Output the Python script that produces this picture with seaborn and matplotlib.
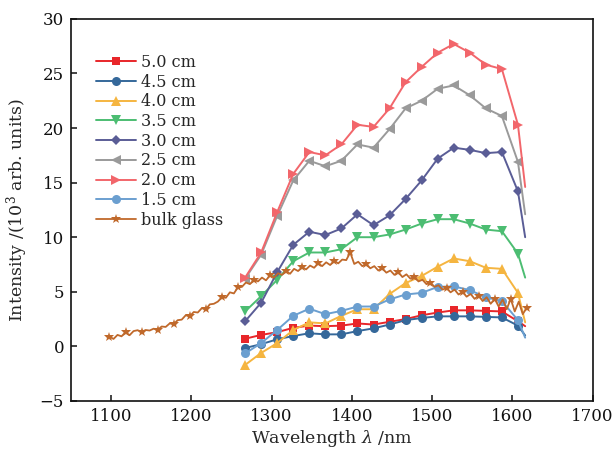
import numpy as np
import pandas as pd
import matplotlib
matplotlib.use("Agg")
import matplotlib.pyplot as plt
import seaborn as sns

# ---- data ----
wavelength = [1267, 1287, 1307, 1327, 1347, 1367, 1387, 1407, 1427, 1447,
              1467, 1487, 1507, 1527, 1547, 1567, 1587, 1607, 1616]

labels = ["5.0 cm", "4.5 cm", "4.0 cm", "3.5 cm", "3.0 cm",
          "2.5 cm", "2.0 cm", "1.5 cm"]

i_50 = [0.7, 1.05, 1.3, 1.7, 1.9, 1.85, 1.9, 2.1, 2.0, 2.25, 2.5, 2.85, 3.1, 3.3, 3.3, 3.25, 3.2, 2.3, 1.85]
i_45 = [-0.15, 0.2, 0.65, 0.95, 1.2, 1.1, 1.1, 1.4, 1.65, 2.0, 2.4, 2.6, 2.75, 2.75, 2.75, 2.7, 2.65, 1.9, 1.0]
i_40 = [-1.7, -0.6, 0.3, 1.5, 2.2, 2.1, 2.8, 3.4, 3.4, 4.8, 5.8, 6.45, 7.3, 8.05, 7.8, 7.2, 7.1, 4.9, 2.2]
i_35 = [3.2, 4.6, 6.1, 7.8, 8.6, 8.6, 8.9, 10.0, 10.0, 10.25, 10.7, 11.25, 11.65, 11.65, 11.25, 10.7, 10.55, 8.5, 6.3]
i_30 = [2.3, 4.0, 6.8, 9.3, 10.5, 10.2, 10.8, 12.1, 11.1, 12.0, 13.5, 15.2, 17.2, 18.2, 18.0, 17.7, 17.8, 14.2, 10.0]
i_25 = [6.2, 8.4, 11.95, 15.2, 17.0, 16.5, 17.0, 18.5, 18.2, 19.9, 21.8, 22.5, 23.6, 23.9, 23.0, 21.8, 21.1, 16.9, 12.1]
i_20 = [6.3, 8.6, 12.3, 15.8, 17.8, 17.5, 18.5, 20.3, 20.1, 21.8, 24.2, 25.6, 26.9, 27.7, 26.9, 25.8, 25.4, 20.3, 14.6]
i_15 = [-0.65, 0.3, 1.5, 2.8, 3.45, 2.95, 3.25, 3.65, 3.65, 4.3, 4.75, 4.9, 5.45, 5.5, 5.15, 4.5, 4.15, 2.4, 0.8]

bulk_start, bulk_step = 1098, 5
bulk_glass = [0.9, 0.68, 1.05, 0.92, 1.3, 1.02, 1.4, 1.48, 1.32, 1.5,
              1.45, 1.62, 1.5, 1.82, 1.78, 2.1, 2.05, 2.4, 2.45, 2.85,
              2.75, 3.15, 3.1, 3.5, 3.38, 3.85, 3.9, 4.1, 4.5, 4.45,
              4.95, 4.85, 5.4, 5.45, 5.85, 5.7, 6.1, 5.95, 6.3, 6.05,
              6.5, 6.3, 6.7, 6.55, 6.9, 6.65, 7.1, 6.9, 7.25, 7.05,
              7.4, 7.2, 7.6, 7.35, 7.7, 7.45, 7.85, 7.6, 7.95, 7.9,
              8.6, 7.55, 7.75, 7.35, 7.55, 7.15, 7.35, 6.95, 7.15, 6.75,
              6.95, 6.55, 6.8, 6.35, 6.6, 6.2, 6.4, 5.95, 6.1, 5.7,
              5.85, 5.45, 5.6, 5.2, 5.35, 4.95, 5.2, 4.75, 5.0, 4.55,
              4.8, 4.35, 4.65, 4.15, 4.5, 3.9, 4.35, 3.65, 4.3, 3.4,
              4.35, 3.2, 4.1, 2.95, 3.55]
bulk_wavelength = [bulk_start + bulk_step * k for k in range(len(bulk_glass))]

series = [i_50, i_45, i_40, i_35, i_30, i_25, i_20, i_15]
colors = ["#e8262a", "#35689a", "#f5b540", "#4cbd72", "#5a5d96",
          "#9a9a9a", "#f2666b", "#6b9fd0"]
markers = ["s", "o", "^", "v", "D", "<", ">", "o"]
msizes = [5.5, 6.5, 6.5, 6.5, 5.5, 6.5, 6.5, 6.5]

# ---- style ----
sns.set_style("ticks")
plt.rcParams["font.family"] = ["DejaVu Serif"]
plt.rcParams["mathtext.fontset"] = "dejavuserif"

fig = plt.figure(figsize=(6.14, 4.49), dpi=100)
ax = fig.add_axes([0.1156, 0.107, 0.8495, 0.851])

n_mark = len(wavelength) - 1
for lab, vals, c, m, ms in zip(labels, series, colors, markers, msizes):
    df = pd.DataFrame({"wl": wavelength, "val": vals})
    sns.lineplot(data=df, x="wl", y="val", ax=ax, color=c, marker=m,
                 markersize=ms, markeredgecolor=c, markeredgewidth=0,
                 markevery=list(range(n_mark)), linewidth=1.4, label=lab)

dfb = pd.DataFrame({"wl": bulk_wavelength, "val": bulk_glass})
sns.lineplot(data=dfb, x="wl", y="val", ax=ax, color="#c0692b", marker="*",
             markersize=7.5, markeredgecolor="#c0692b", markeredgewidth=0,
             markevery=4, linewidth=1.3, label="bulk glass")

ax.set_xlim(1050, 1700)
ax.set_ylim(-5, 30)
ax.set_xticks([1100, 1200, 1300, 1400, 1500, 1600, 1700])
ax.set_yticks([-5, 0, 5, 10, 15, 20, 25, 30])
ax.set_yticklabels(["\u22125", "0", "5", "10", "15", "20", "25", "30"])
ax.tick_params(direction="in", length=4, width=1.1, labelsize=12,
               top=False, right=False, pad=5, colors="#111111")
for sp in ax.spines.values():
    sp.set_linewidth(1.2)
    sp.set_color("#111111")

ax.set_xlabel("Wavelength $\\lambda$ /nm", fontsize=12.5, labelpad=2)
ax.set_ylabel("Intensity /(10$^3$ arb. units)", fontsize=12.5, labelpad=7)

ax.legend(loc="upper left", bbox_to_anchor=(0.035, 0.925), frameon=False,
          fontsize=11.5, handlelength=2.5, handletextpad=0.35,
          labelspacing=0.17, borderaxespad=0)

fig.savefig("out.png", dpi=100)
